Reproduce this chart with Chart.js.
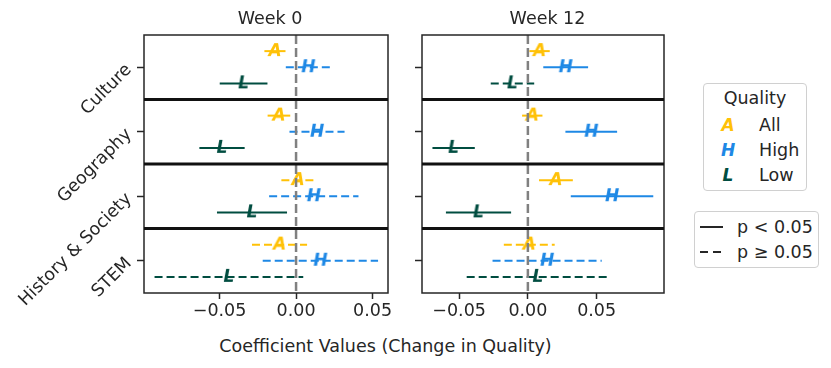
<!DOCTYPE html>
<html>
<head>
<meta charset="utf-8">
<script src="https://cdn.jsdelivr.net/npm/chart.js@4/dist/chart.umd.min.js"></script>
<style>
  body { margin: 0; width: 831px; height: 368px; background: #fff; position: relative; overflow: hidden;
         font-family: "DejaVu Sans", sans-serif; color: #262626; }
  canvas { position: absolute; top: 0; }
  .txt { position: absolute; font-size: 17.5px; line-height: 20px; white-space: nowrap; }
  .mk { position: absolute; font-size: 17px; line-height: 20px; font-weight: bold; font-style: italic; width: 20px; text-align: center; }
  .box { position: absolute; border: 1px solid #d0d0d0; border-radius: 4px; box-sizing: border-box; }
</style>
</head>
<body>
<canvas id="week0" width="400" height="325" style="left:0"></canvas>
<canvas id="week12" width="276" height="325" style="left:400px"></canvas>

<div class="txt" style="left:144px;width:252px;top:8px;text-align:center">Week 0</div>
<div class="txt" style="left:422px;width:251px;top:8px;text-align:center">Week 12</div>
<div class="txt" style="left:185px;width:401px;top:336px;text-align:center">Coefficient Values (Change in Quality)</div>

<div class="box" style="left:703px;top:83px;width:104px;height:108px"></div>
<div class="txt" style="left:703px;width:104px;top:88px;text-align:center">Quality</div>
<div class="mk" style="left:718px;top:115px;color:#FFC107">A</div>
<div class="txt" style="left:759px;top:115px">All</div>
<div class="mk" style="left:718px;top:140px;color:#1E88E5">H</div>
<div class="txt" style="left:759px;top:140px">High</div>
<div class="mk" style="left:718px;top:165px;color:#004D40">L</div>
<div class="txt" style="left:759px;top:165px">Low</div>

<div class="box" style="left:694px;top:211px;width:125px;height:57px"></div>
<svg style="position:absolute;left:700px;top:222px" width="24" height="35">
  <line x1="0" y1="5" x2="23" y2="5" stroke="#262626" stroke-width="2"/>
  <line x1="0" y1="30" x2="23" y2="30" stroke="#262626" stroke-width="2" stroke-dasharray="8,5"/>
</svg>
<div class="txt" style="left:737px;top:217px">p &lt; 0.05</div>
<div class="txt" style="left:737px;top:242px">p ≥ 0.05</div>

<script>
const categories = ["Culture", "Geography", "History & Society", "STEM"];
const xTicks = [-0.05, 0, 0.05];

// Week 0: coefficient, half-width of interval, significant (p < 0.05)
const w0AllMean = [-0.0138, -0.0112, 0.0013, -0.0108];
const w0AllErr = [0.0069, 0.0074, 0.0109, 0.0180];
const w0AllSig = [true, true, false, false];
const w0HighMean = [0.0080, 0.0137, 0.0116, 0.0159];
const w0HighErr = [0.0147, 0.0180, 0.0292, 0.0377];
const w0HighSig = [false, false, false, false];
const w0LowMean = [-0.0343, -0.0484, -0.0288, -0.0439];
const w0LowErr = [0.0156, 0.0148, 0.0229, 0.0486];
const w0LowSig = [true, true, true, false];

// Week 12
const w12AllMean = [0.0085, 0.0032, 0.0204, 0.0010];
const w12AllErr = [0.0074, 0.0074, 0.0123, 0.0185];
const w12AllSig = [true, true, true, false];
const w12HighMean = [0.0275, 0.0461, 0.0612, 0.0140];
const w12HighErr = [0.0163, 0.0188, 0.0300, 0.0397];
const w12HighSig = [true, true, true, false];
const w12LowMean = [-0.0112, -0.0540, -0.0359, 0.0073];
const w12LowErr = [0.0158, 0.0154, 0.0237, 0.0518];
const w12LowSig = [false, true, true, false];

const FONT = "DejaVu Sans";
const TEXT = "#262626";

function makeMarker(letter, color) {
    const c = document.createElement("canvas");
    c.width = 24;
    c.height = 24;
    const g = c.getContext("2d");
    g.font = `italic bold 17px "${FONT}"`;
    g.fillStyle = color;
    g.textAlign = "center";
    g.textBaseline = "middle";
    g.fillText(letter, 12, 13);
    return c;
}

function buildDatasets(groups) {
    const datasets = [];
    datasets.push({
        data: [{ x: 0, y: -0.5 }, { x: 0, y: categories.length - 0.5 }],
        showLine: true, borderColor: "#808080", borderWidth: 2.5, borderDash: [9, 4], pointRadius: 0
    });
    groups.forEach((g) => {
        categories.forEach((cat, i) => {
            const y = i + g.offset;
            datasets.push({
                data: [{ x: g.mean[i] - g.err[i], y }, { x: g.mean[i] + g.err[i], y }],
                showLine: true, borderColor: g.color, borderWidth: 2,
                borderDash: g.sig[i] ? [] : [8, 4], pointRadius: 0
            });
        });
    });
    groups.forEach((g) => {
        const marker = makeMarker(g.letter, g.color);
        datasets.push({
            data: categories.map((cat, i) => ({ x: g.mean[i], y: i + g.offset })),
            pointStyle: marker, pointRadius: 11, showLine: false
        });
    });
    return datasets;
}

const framePlugin = {
    id: "frame",
    afterDraw(chart) {
        const { ctx, chartArea: a } = chart;
        const y = chart.scales.y;
        ctx.save();
        ctx.strokeStyle = TEXT;
        ctx.lineWidth = 1.5;
        ctx.strokeRect(a.left, a.top, a.width, a.height);
        ctx.strokeStyle = "#111";
        ctx.lineWidth = 3;
        for (let i = 1; i < categories.length; i++) {
            const py = y.getPixelForValue(i - 0.5);
            ctx.beginPath();
            ctx.moveTo(a.left, py);
            ctx.lineTo(a.right, py);
            ctx.stroke();
        }
        ctx.restore();
    }
};

function fmt(v) {
    const s = Math.abs(v).toFixed(2);
    return v < -1e-9 ? "\u2212" + s : s;
}

function noPad(s) {
    s.paddingLeft = 0;
    s.paddingRight = 0;
    s.paddingTop = 0;
    s.paddingBottom = 0;
}

function renderWeek(id, groups, xmin, xmax, yWidth, showLabels, padRight) {
    const config = {
        type: "scatter",
        data: { datasets: buildDatasets(groups) },
        options: {
            responsive: false,
            animation: false,
            events: [],
            layout: { padding: { left: 0, right: padRight, top: 35, bottom: 0 } },
            plugins: {
                legend: { display: false },
                tooltip: { enabled: false },
                title: { display: false }
            },
            scales: {
                x: {
                    type: "linear", min: xmin, max: xmax,
                    afterBuildTicks: (s) => { s.ticks = xTicks.map((v) => ({ value: v })); },
                    afterFit: (s) => { s.height = 32; noPad(s); },
                    ticks: { callback: (v) => fmt(v), color: TEXT, font: { family: FONT, size: 17.5 }, padding: 2, maxRotation: 0 },
                    grid: { drawOnChartArea: false, tickLength: 6, tickColor: TEXT, tickWidth: 1.5 },
                    border: { display: false }
                },
                y: {
                    type: "linear", reverse: true, min: -0.5, max: categories.length - 0.5,
                    afterBuildTicks: (s) => { s.ticks = categories.map((c, i) => ({ value: i })); },
                    afterFit: (s) => { s.width = yWidth; noPad(s); },
                    ticks: {
                        callback: (v) => (showLabels ? categories[v] : ""),
                        color: TEXT, font: { family: FONT, size: 17.5 },
                        minRotation: 45, maxRotation: 45, padding: 8
                    },
                    grid: { drawOnChartArea: false, tickLength: 7, tickColor: TEXT, tickWidth: 1.5 },
                    border: { display: false }
                }
            }
        },
        plugins: [framePlugin]
    };
    new Chart(document.getElementById(id), config);
}

const styleAll = { letter: "A", color: "#FFC107", offset: -0.25 };
const styleHigh = { letter: "H", color: "#1E88E5", offset: 0 };
const styleLow = { letter: "L", color: "#004D40", offset: 0.25 };

renderWeek("week0", [
    { ...styleAll, mean: w0AllMean, err: w0AllErr, sig: w0AllSig },
    { ...styleHigh, mean: w0HighMean, err: w0HighErr, sig: w0HighSig },
    { ...styleLow, mean: w0LowMean, err: w0LowErr, sig: w0LowSig }
], -0.0994, 0.0601, 144, true, 3);

renderWeek("week12", [
    { ...styleAll, mean: w12AllMean, err: w12AllErr, sig: w12AllSig },
    { ...styleHigh, mean: w12HighMean, err: w12HighErr, sig: w12HighSig },
    { ...styleLow, mean: w12LowMean, err: w12LowErr, sig: w12LowSig }
], -0.077, 0.099, 22, false, 3);
</script>
</body>
</html>
